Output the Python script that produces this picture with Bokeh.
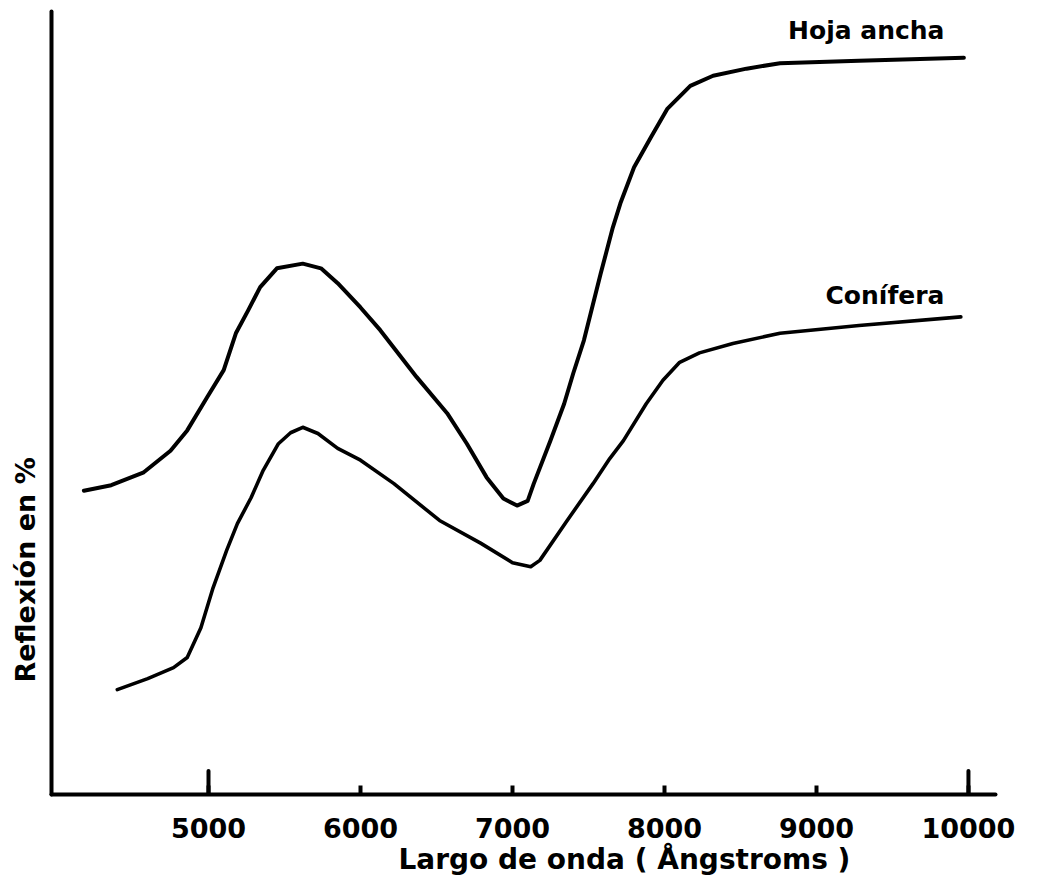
from bokeh.plotting import figure
from bokeh.models import Range1d, FixedTicker, Title
from bokeh.embed import file_html
from bokeh.resources import INLINE

# Wavelength (Angstroms) and relative reflectance (arbitrary %)
hoja_wl = [4180, 4360, 4570, 4750, 4860, 4990, 5100, 5180, 5260, 5340, 5450, 5620,
           5740, 5850, 6000, 6130, 6370, 6570, 6700, 6830, 6940, 7030, 7100, 7140,
           7250, 7340, 7400, 7470, 7580, 7660, 7710, 7800, 7910, 8020, 8170, 8320,
           8540, 8760, 9280, 9970]
hoja_ref = [38.8, 39.5, 41.1, 43.9, 46.5, 50.7, 54.2, 58.9, 61.8, 64.8, 67.2, 67.8,
            67.2, 65.3, 62.2, 59.3, 53.3, 48.7, 44.8, 40.5, 37.8, 36.9, 37.5, 39.7,
            45.2, 49.9, 53.8, 58.0, 66.5, 72.4, 75.5, 80.1, 83.9, 87.6, 90.5, 91.8,
            92.7, 93.4, 93.7, 94.1]

conif_wl = [4400, 4600, 4770, 4860, 4950, 5030, 5120, 5190, 5280, 5360, 5460, 5540,
            5620, 5720, 5850, 6000, 6220, 6520, 6790, 7000, 7120, 7180, 7360, 7530,
            7640, 7730, 7880, 7990, 8100, 8230, 8450, 8760, 9280, 9950]
conif_ref = [13.4, 14.8, 16.2, 17.5, 21.3, 26.4, 31.2, 34.6, 37.9, 41.4, 44.8, 46.2,
             46.9, 46.1, 44.2, 42.7, 39.7, 35.0, 32.1, 29.6, 29.1, 29.9, 35.0, 39.7,
             42.9, 45.2, 49.9, 52.9, 55.2, 56.4, 57.6, 58.9, 59.9, 61.0]

tick_values = [5000, 6000, 7000, 8000, 9000, 10000]
tick_labels = ["5000", "6000", "7000", "8000", "9000", "10000"]
long_ticks = [5000, 10000]

series_names = ["Hoja ancha", "Conífera"]
x_title = "Largo de onda  ( Ångstroms )"
y_title = "Reflexión en %"

FONT = "DejaVu Sans"

p = figure(width=1040, height=877, output_backend="svg", toolbar_location=None,
           x_range=Range1d(3967, 10178), y_range=Range1d(0, 100),
           min_border_left=51, min_border_right=45, min_border_top=11,
           min_border_bottom=83)
p.outline_line_color = None
p.background_fill_color = "white"
p.border_fill_color = "white"
p.grid.visible = False

# x axis
xa = p.xaxis[0]
xa.ticker = FixedTicker(ticks=tick_values)
xa.major_label_overrides = {v: s for v, s in zip(tick_values, tick_labels)}
xa.axis_line_width = 4
xa.axis_line_color = "black"
xa.axis_line_cap = "round"
xa.major_tick_in = 9
xa.major_tick_out = 0
xa.major_tick_line_width = 4
xa.major_tick_line_color = "black"
xa.minor_tick_line_color = None
xa.major_label_text_font = FONT
xa.major_label_text_font_style = "bold"
xa.major_label_text_font_size = "27px"
xa.major_label_text_color = "black"
xa.major_label_standoff = 23

# y axis: plain line (no ticks)
ya = p.yaxis[0]
ya.ticker = FixedTicker(ticks=[])
ya.axis_line_width = 4
ya.axis_line_color = "black"
ya.axis_line_cap = "round"
ya.major_tick_line_color = None
ya.minor_tick_line_color = None
ya.major_tick_in = 0
ya.major_tick_out = 0
ya.major_label_standoff = 0

# long ticks at 5000 and 10000
p.segment(x0=long_ticks, y0=[0] * len(long_ticks), x1=long_ticks, y1=[3.0] * len(long_ticks),
          line_width=4, line_color="black", line_cap="round")

# curves
p.line(hoja_wl, hoja_ref, line_width=4, line_color="black", line_join="round", line_cap="round")
p.line(conif_wl, conif_ref, line_width=3.6, line_color="black", line_join="round", line_cap="round")

# curve labels (right aligned above the curve ends)
p.text(x=[9842], y=[97.6], text=[series_names[0]], text_align="right",
       text_baseline="alphabetic", text_font={"value": FONT}, text_font_style="bold",
       text_font_size="25px", text_color="black")
p.text(x=[9842], y=[63.7], text=[series_names[1]], text_align="right",
       text_baseline="alphabetic", text_font={"value": FONT}, text_font_style="bold",
       text_font_size="25px", text_color="black")

# axis titles as side-panel titles, offset like the original
p.add_layout(Title(text=x_title, align="left", offset=347, standoff=0,
                   text_font=FONT, text_font_style="bold", text_font_size="28px",
                   text_color="black"), "below")
p.add_layout(Title(text=y_title, align="left", vertical_align="top", offset=112, standoff=18,
                   text_font=FONT, text_font_style="bold", text_font_size="27px",
                   text_color="black"), "left")

open("out.html", "w").write(file_html(p, INLINE))
